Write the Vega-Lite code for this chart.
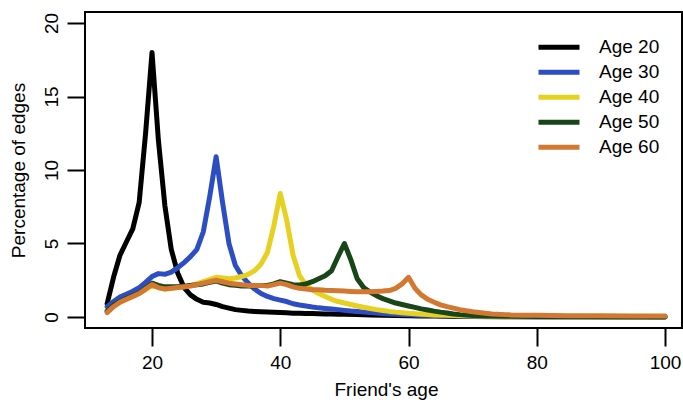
{
  "$schema": "https://vega.github.io/schema/vega-lite/v6.json",
  "width": 597,
  "height": 316,
  "autosize": {"type": "none"},
  "padding": {"left": 85, "top": 12, "right": 1, "bottom": 72},
  "background": "white",
  "config": {
    "font": "Liberation Sans",
    "view": {"stroke": "black", "strokeWidth": 2},
    "axis": {
      "domain": false, "grid": false, "ticks": true, "tickSize": 18, "tickWidth": 2, "tickColor": "black",
      "labelFontSize": 19, "labelColor": "black", "labelFlush": false, "labelOverlap": false,
      "titleFontSize": 19, "titleFontWeight": "normal", "titleColor": "black"
    },
    "legend": {"labelFontSize": 19, "labelColor": "black"}
  },
  "data": {"values": [
    {"age":13,"group":"Age 20","pct":0.9},{"age":14,"group":"Age 20","pct":2.7},{"age":15,"group":"Age 20","pct":4.2},{"age":16,"group":"Age 20","pct":5.1},{"age":17,"group":"Age 20","pct":6.0},{"age":18,"group":"Age 20","pct":7.8},{"age":19,"group":"Age 20","pct":12.5},{"age":20,"group":"Age 20","pct":18.0},{"age":21,"group":"Age 20","pct":12.0},{"age":22,"group":"Age 20","pct":7.6},{"age":23,"group":"Age 20","pct":4.6},{"age":24,"group":"Age 20","pct":3.0},{"age":25,"group":"Age 20","pct":2.0},{"age":26,"group":"Age 20","pct":1.5},{"age":27,"group":"Age 20","pct":1.2},{"age":28,"group":"Age 20","pct":1.0},{"age":29,"group":"Age 20","pct":0.95},{"age":30,"group":"Age 20","pct":0.85},{"age":31,"group":"Age 20","pct":0.7},{"age":32,"group":"Age 20","pct":0.6},{"age":33,"group":"Age 20","pct":0.5},{"age":34,"group":"Age 20","pct":0.45},{"age":35,"group":"Age 20","pct":0.4},{"age":36,"group":"Age 20","pct":0.38},{"age":37,"group":"Age 20","pct":0.36},{"age":38,"group":"Age 20","pct":0.34},{"age":39,"group":"Age 20","pct":0.32},{"age":40,"group":"Age 20","pct":0.3},{"age":41,"group":"Age 20","pct":0.28},{"age":42,"group":"Age 20","pct":0.26},{"age":43,"group":"Age 20","pct":0.25},{"age":44,"group":"Age 20","pct":0.24},{"age":45,"group":"Age 20","pct":0.23},{"age":46,"group":"Age 20","pct":0.22},{"age":47,"group":"Age 20","pct":0.21},{"age":48,"group":"Age 20","pct":0.2},{"age":49,"group":"Age 20","pct":0.19},{"age":50,"group":"Age 20","pct":0.18},{"age":52,"group":"Age 20","pct":0.16},{"age":54,"group":"Age 20","pct":0.14},{"age":56,"group":"Age 20","pct":0.12},{"age":58,"group":"Age 20","pct":0.1},{"age":60,"group":"Age 20","pct":0.08},{"age":62,"group":"Age 20","pct":0.07},{"age":64,"group":"Age 20","pct":0.06},{"age":66,"group":"Age 20","pct":0.05},{"age":68,"group":"Age 20","pct":0.04},{"age":70,"group":"Age 20","pct":0.03},{"age":75,"group":"Age 20","pct":0.02},{"age":80,"group":"Age 20","pct":0.01},{"age":90,"group":"Age 20","pct":0.01},{"age":100,"group":"Age 20","pct":0.0},

    {"age":13,"group":"Age 30","pct":0.7},{"age":14,"group":"Age 30","pct":1.05},{"age":15,"group":"Age 30","pct":1.35},{"age":16,"group":"Age 30","pct":1.55},{"age":17,"group":"Age 30","pct":1.75},{"age":18,"group":"Age 30","pct":2.0},{"age":19,"group":"Age 30","pct":2.35},{"age":20,"group":"Age 30","pct":2.75},{"age":21,"group":"Age 30","pct":2.95},{"age":22,"group":"Age 30","pct":2.9},{"age":23,"group":"Age 30","pct":3.05},{"age":24,"group":"Age 30","pct":3.35},{"age":25,"group":"Age 30","pct":3.7},{"age":26,"group":"Age 30","pct":4.1},{"age":27,"group":"Age 30","pct":4.6},{"age":28,"group":"Age 30","pct":5.8},{"age":29,"group":"Age 30","pct":8.2},{"age":30,"group":"Age 30","pct":10.9},{"age":31,"group":"Age 30","pct":7.8},{"age":32,"group":"Age 30","pct":5.0},{"age":33,"group":"Age 30","pct":3.5},{"age":34,"group":"Age 30","pct":2.8},{"age":35,"group":"Age 30","pct":2.3},{"age":36,"group":"Age 30","pct":1.9},{"age":37,"group":"Age 30","pct":1.6},{"age":38,"group":"Age 30","pct":1.4},{"age":39,"group":"Age 30","pct":1.25},{"age":40,"group":"Age 30","pct":1.15},{"age":41,"group":"Age 30","pct":1.05},{"age":42,"group":"Age 30","pct":0.9},{"age":43,"group":"Age 30","pct":0.82},{"age":44,"group":"Age 30","pct":0.75},{"age":45,"group":"Age 30","pct":0.68},{"age":46,"group":"Age 30","pct":0.62},{"age":47,"group":"Age 30","pct":0.58},{"age":48,"group":"Age 30","pct":0.54},{"age":49,"group":"Age 30","pct":0.5},{"age":50,"group":"Age 30","pct":0.45},{"age":51,"group":"Age 30","pct":0.4},{"age":52,"group":"Age 30","pct":0.37},{"age":53,"group":"Age 30","pct":0.33},{"age":54,"group":"Age 30","pct":0.3},{"age":55,"group":"Age 30","pct":0.27},{"age":56,"group":"Age 30","pct":0.24},{"age":57,"group":"Age 30","pct":0.21},{"age":58,"group":"Age 30","pct":0.19},{"age":59,"group":"Age 30","pct":0.17},{"age":60,"group":"Age 30","pct":0.15},{"age":62,"group":"Age 30","pct":0.12},{"age":64,"group":"Age 30","pct":0.1},{"age":66,"group":"Age 30","pct":0.08},{"age":68,"group":"Age 30","pct":0.06},{"age":70,"group":"Age 30","pct":0.05},{"age":75,"group":"Age 30","pct":0.03},{"age":80,"group":"Age 30","pct":0.02},{"age":90,"group":"Age 30","pct":0.01},{"age":100,"group":"Age 30","pct":0.01},

    {"age":13,"group":"Age 40","pct":0.35},{"age":14,"group":"Age 40","pct":0.75},{"age":15,"group":"Age 40","pct":1.0},{"age":16,"group":"Age 40","pct":1.2},{"age":17,"group":"Age 40","pct":1.4},{"age":18,"group":"Age 40","pct":1.6},{"age":19,"group":"Age 40","pct":1.85},{"age":20,"group":"Age 40","pct":2.15},{"age":21,"group":"Age 40","pct":2.0},{"age":22,"group":"Age 40","pct":1.9},{"age":23,"group":"Age 40","pct":1.95},{"age":24,"group":"Age 40","pct":2.0},{"age":25,"group":"Age 40","pct":2.05},{"age":26,"group":"Age 40","pct":2.15},{"age":27,"group":"Age 40","pct":2.25},{"age":28,"group":"Age 40","pct":2.4},{"age":29,"group":"Age 40","pct":2.55},{"age":30,"group":"Age 40","pct":2.7},{"age":31,"group":"Age 40","pct":2.65},{"age":32,"group":"Age 40","pct":2.6},{"age":33,"group":"Age 40","pct":2.65},{"age":34,"group":"Age 40","pct":2.75},{"age":35,"group":"Age 40","pct":2.9},{"age":36,"group":"Age 40","pct":3.15},{"age":37,"group":"Age 40","pct":3.6},{"age":38,"group":"Age 40","pct":4.4},{"age":39,"group":"Age 40","pct":6.2},{"age":40,"group":"Age 40","pct":8.4},{"age":41,"group":"Age 40","pct":6.6},{"age":42,"group":"Age 40","pct":4.2},{"age":43,"group":"Age 40","pct":2.8},{"age":44,"group":"Age 40","pct":2.2},{"age":45,"group":"Age 40","pct":1.85},{"age":46,"group":"Age 40","pct":1.6},{"age":47,"group":"Age 40","pct":1.4},{"age":48,"group":"Age 40","pct":1.2},{"age":49,"group":"Age 40","pct":1.05},{"age":50,"group":"Age 40","pct":0.95},{"age":51,"group":"Age 40","pct":0.85},{"age":52,"group":"Age 40","pct":0.75},{"age":53,"group":"Age 40","pct":0.66},{"age":54,"group":"Age 40","pct":0.58},{"age":55,"group":"Age 40","pct":0.5},{"age":56,"group":"Age 40","pct":0.44},{"age":57,"group":"Age 40","pct":0.38},{"age":58,"group":"Age 40","pct":0.33},{"age":59,"group":"Age 40","pct":0.29},{"age":60,"group":"Age 40","pct":0.25},{"age":61,"group":"Age 40","pct":0.22},{"age":62,"group":"Age 40","pct":0.19},{"age":63,"group":"Age 40","pct":0.16},{"age":64,"group":"Age 40","pct":0.14},{"age":66,"group":"Age 40","pct":0.11},{"age":68,"group":"Age 40","pct":0.08},{"age":70,"group":"Age 40","pct":0.06},{"age":75,"group":"Age 40","pct":0.04},{"age":80,"group":"Age 40","pct":0.03},{"age":90,"group":"Age 40","pct":0.02},{"age":100,"group":"Age 40","pct":0.01},

    {"age":13,"group":"Age 50","pct":0.4},{"age":14,"group":"Age 50","pct":0.8},{"age":15,"group":"Age 50","pct":1.05},{"age":16,"group":"Age 50","pct":1.25},{"age":17,"group":"Age 50","pct":1.45},{"age":18,"group":"Age 50","pct":1.65},{"age":19,"group":"Age 50","pct":1.95},{"age":20,"group":"Age 50","pct":2.3},{"age":21,"group":"Age 50","pct":2.15},{"age":22,"group":"Age 50","pct":2.05},{"age":23,"group":"Age 50","pct":2.05},{"age":24,"group":"Age 50","pct":2.05},{"age":25,"group":"Age 50","pct":2.1},{"age":26,"group":"Age 50","pct":2.15},{"age":27,"group":"Age 50","pct":2.2},{"age":28,"group":"Age 50","pct":2.25},{"age":29,"group":"Age 50","pct":2.35},{"age":30,"group":"Age 50","pct":2.45},{"age":31,"group":"Age 50","pct":2.3},{"age":32,"group":"Age 50","pct":2.2},{"age":33,"group":"Age 50","pct":2.15},{"age":34,"group":"Age 50","pct":2.1},{"age":35,"group":"Age 50","pct":2.1},{"age":36,"group":"Age 50","pct":2.1},{"age":37,"group":"Age 50","pct":2.15},{"age":38,"group":"Age 50","pct":2.15},{"age":39,"group":"Age 50","pct":2.25},{"age":40,"group":"Age 50","pct":2.4},{"age":41,"group":"Age 50","pct":2.3},{"age":42,"group":"Age 50","pct":2.2},{"age":43,"group":"Age 50","pct":2.18},{"age":44,"group":"Age 50","pct":2.25},{"age":45,"group":"Age 50","pct":2.4},{"age":46,"group":"Age 50","pct":2.6},{"age":47,"group":"Age 50","pct":2.8},{"age":48,"group":"Age 50","pct":3.15},{"age":49,"group":"Age 50","pct":4.1},{"age":50,"group":"Age 50","pct":5.0},{"age":51,"group":"Age 50","pct":3.9},{"age":52,"group":"Age 50","pct":2.6},{"age":53,"group":"Age 50","pct":2.0},{"age":54,"group":"Age 50","pct":1.7},{"age":55,"group":"Age 50","pct":1.45},{"age":56,"group":"Age 50","pct":1.25},{"age":57,"group":"Age 50","pct":1.1},{"age":58,"group":"Age 50","pct":0.95},{"age":59,"group":"Age 50","pct":0.85},{"age":60,"group":"Age 50","pct":0.75},{"age":61,"group":"Age 50","pct":0.65},{"age":62,"group":"Age 50","pct":0.55},{"age":63,"group":"Age 50","pct":0.48},{"age":64,"group":"Age 50","pct":0.4},{"age":65,"group":"Age 50","pct":0.33},{"age":66,"group":"Age 50","pct":0.27},{"age":67,"group":"Age 50","pct":0.2},{"age":68,"group":"Age 50","pct":0.16},{"age":69,"group":"Age 50","pct":0.13},{"age":70,"group":"Age 50","pct":0.1},{"age":72,"group":"Age 50","pct":0.07},{"age":75,"group":"Age 50","pct":0.05},{"age":80,"group":"Age 50","pct":0.03},{"age":90,"group":"Age 50","pct":0.02},{"age":100,"group":"Age 50","pct":0.01},

    {"age":13,"group":"Age 60","pct":0.3},{"age":14,"group":"Age 60","pct":0.7},{"age":15,"group":"Age 60","pct":1.0},{"age":16,"group":"Age 60","pct":1.2},{"age":17,"group":"Age 60","pct":1.4},{"age":18,"group":"Age 60","pct":1.6},{"age":19,"group":"Age 60","pct":1.9},{"age":20,"group":"Age 60","pct":2.2},{"age":21,"group":"Age 60","pct":2.0},{"age":22,"group":"Age 60","pct":1.9},{"age":23,"group":"Age 60","pct":1.95},{"age":24,"group":"Age 60","pct":2.0},{"age":25,"group":"Age 60","pct":2.05},{"age":26,"group":"Age 60","pct":2.1},{"age":27,"group":"Age 60","pct":2.2},{"age":28,"group":"Age 60","pct":2.3},{"age":29,"group":"Age 60","pct":2.4},{"age":30,"group":"Age 60","pct":2.5},{"age":31,"group":"Age 60","pct":2.4},{"age":32,"group":"Age 60","pct":2.3},{"age":33,"group":"Age 60","pct":2.25},{"age":34,"group":"Age 60","pct":2.2},{"age":35,"group":"Age 60","pct":2.15},{"age":36,"group":"Age 60","pct":2.15},{"age":37,"group":"Age 60","pct":2.15},{"age":38,"group":"Age 60","pct":2.1},{"age":39,"group":"Age 60","pct":2.2},{"age":40,"group":"Age 60","pct":2.3},{"age":41,"group":"Age 60","pct":2.2},{"age":42,"group":"Age 60","pct":2.05},{"age":43,"group":"Age 60","pct":1.95},{"age":44,"group":"Age 60","pct":1.9},{"age":45,"group":"Age 60","pct":1.85},{"age":46,"group":"Age 60","pct":1.85},{"age":47,"group":"Age 60","pct":1.82},{"age":48,"group":"Age 60","pct":1.8},{"age":49,"group":"Age 60","pct":1.78},{"age":50,"group":"Age 60","pct":1.76},{"age":51,"group":"Age 60","pct":1.74},{"age":52,"group":"Age 60","pct":1.72},{"age":53,"group":"Age 60","pct":1.72},{"age":54,"group":"Age 60","pct":1.72},{"age":55,"group":"Age 60","pct":1.74},{"age":56,"group":"Age 60","pct":1.76},{"age":57,"group":"Age 60","pct":1.8},{"age":58,"group":"Age 60","pct":1.95},{"age":59,"group":"Age 60","pct":2.25},{"age":60,"group":"Age 60","pct":2.7},{"age":61,"group":"Age 60","pct":1.95},{"age":62,"group":"Age 60","pct":1.5},{"age":63,"group":"Age 60","pct":1.2},{"age":64,"group":"Age 60","pct":1.0},{"age":65,"group":"Age 60","pct":0.82},{"age":66,"group":"Age 60","pct":0.7},{"age":67,"group":"Age 60","pct":0.6},{"age":68,"group":"Age 60","pct":0.5},{"age":69,"group":"Age 60","pct":0.42},{"age":70,"group":"Age 60","pct":0.35},{"age":71,"group":"Age 60","pct":0.3},{"age":72,"group":"Age 60","pct":0.25},{"age":73,"group":"Age 60","pct":0.21},{"age":74,"group":"Age 60","pct":0.18},{"age":75,"group":"Age 60","pct":0.16},{"age":76,"group":"Age 60","pct":0.14},{"age":78,"group":"Age 60","pct":0.12},{"age":80,"group":"Age 60","pct":0.11},{"age":85,"group":"Age 60","pct":0.09},{"age":90,"group":"Age 60","pct":0.08},{"age":95,"group":"Age 60","pct":0.07},{"age":100,"group":"Age 60","pct":0.07}
  ]},
  "mark": {"type": "line", "strokeWidth": 5, "strokeCap": "round", "strokeJoin": "round"},
  "encoding": {
    "x": {
      "field": "age", "type": "quantitative",
      "scale": {"domain": [9.55, 102.65], "nice": false, "zero": false},
      "axis": {
        "values": [20, 40, 60, 80, 100], "title": "Friend's age",
        "labelBaseline": "alphabetic", "labelPadding": 22,
        "titleX": 301, "titleY": 67, "titleAlign": "center", "titleBaseline": "alphabetic"
      }
    },
    "y": {
      "field": "pct", "type": "quantitative",
      "scale": {"domain": [-0.75, 20.75], "nice": false, "zero": false},
      "axis": {
        "values": [0, 5, 10, 15, 20], "title": "Percentage of edges",
        "labelAngle": -90, "labelAlign": "center", "labelBaseline": "alphabetic", "labelPadding": 10,
        "titleAngle": -90, "titleX": -61, "titleY": 158, "titleAlign": "center", "titleBaseline": "alphabetic"
      }
    },
    "color": {
      "field": "group", "type": "nominal",
      "scale": {
        "domain": ["Age 20", "Age 30", "Age 40", "Age 50", "Age 60"],
        "range": ["#000000", "#2C4EC2", "#E6D020", "#184618", "#D27830"]
      },
      "legend": {
        "orient": "none", "legendX": 451, "legendY": 23, "title": null,
        "symbolType": "stroke", "symbolSize": 1681, "symbolStrokeWidth": 5,
        "labelOffset": 17, "clipHeight": 24.6, "rowPadding": 0, "padding": 0,
        "labelFontSize": 19, "labelColor": "black"
      }
    }
  }
}
